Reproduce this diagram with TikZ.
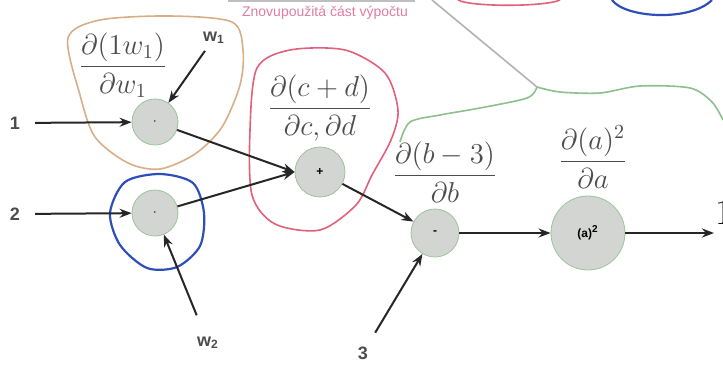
\documentclass[tikz,border=0pt]{standalone}
\usepackage{fontspec}
\setsansfont{Liberation Sans}
\usepackage{amsmath}
\usetikzlibrary{arrows.meta, positioning, calc}
\definecolor{nodegray}{HTML}{D3D5D3}
\definecolor{nodegreen}{HTML}{9CC49A}
\definecolor{outtan}{HTML}{D9AE86}
\definecolor{outblue}{HTML}{2F4FB8}
\definecolor{outred}{HTML}{E2607A}
\definecolor{outgreen}{HTML}{8CC08C}
\definecolor{notepink}{HTML}{E07CA0}

\begin{document}
\begin{tikzpicture}[x=0.5pt, y=-0.5pt,
    gate/.style={circle, draw=nodegreen, fill=nodegray, thin, minimum size=#1, inner sep=0pt, font=\fontsize{6}{7}\sffamily\bfseries},
    gate/.default=23pt,
    arrow/.style={-{Stealth[length=6pt, width=4.5pt]}, line width=1pt, black!85},
    inlabel/.style={font=\fontsize{9}{11}\sffamily\bfseries, text=black!70},
    deriv/.style={font=\fontsize{14}{16}\selectfont, text=black!70},
    blob/.style={line width=0.8pt}
]
\useasboundingbox (0,0) rectangle (723,365);

\draw[blob, outtan] plot[smooth cycle] coordinates {(68,38) (100,20) (170,16) (232,22) (243,50) (240,85) (222,127) (195,154) (160,169) (128,163) (95,137) (80,95)};
\draw[blob, outblue, line width=1.1pt] plot[smooth cycle] coordinates {(110,213) (125,182) (160,174) (193,183) (204,213) (200,246) (177,267) (147,268) (120,245)};
\draw[blob, outred] plot[smooth cycle] coordinates {(257,68) (290,50) (345,50) (385,73) (398,110) (391,140) (372,175) (356,205) (320,230) (275,224) (252,195) (250,130)};
\draw[blob, outgreen] plot[smooth] coordinates {(400,142) (410,122) (440,115) (480,108) (527,98) (537,87)};
\draw[blob, outgreen] plot[smooth] coordinates {(537,87) (560,92) (600,93) (640,86) (690,88) (712,102) (723,120)};
\draw[blob, gray!60] (432,0) -- (537,87);
\draw[blob, gray!50] (228,1) -- (415,1);
\draw[blob, outred] (458,0) .. controls (470,7) and (545,7) .. (560,0);
\draw[blob, outblue, line width=1.1pt] (612,0) .. controls (625,18) and (690,22) .. (712,0);

\node[font=\fontsize{7}{8}\sffamily, text=notepink] (note) at (325,13) {Znovupoužitá část výpočtu};

\node[gate] (m1) at (155,122) {$\cdot$};
\node[gate] (m2) at (155,213) {$\cdot$};
\node[gate=25pt] (add) at (320,172) {+};
\node[gate=24pt] (sub) at (435,233) {-};
\node[gate=37pt] (sq) at (588,233) {(a)\textsuperscript{2}};

\node[inlabel] (x1) at (15,123) {1};
\node[inlabel] (x2) at (15,214) {2};
\node[inlabel] (w1) at (214,38) {w\textsubscript{1}};
\node[inlabel] (w2) at (208,343) {w\textsubscript{2}};
\node[inlabel] (c3) at (363,353) {3};
\node[font=\fontsize{18}{20}\selectfont, anchor=west, inner sep=0pt] (y) at (715,213) {1};
\coordinate (out) at (714,233);

\node[deriv] (d1) at (123,65) {$\dfrac{\partial(1w_1)}{\partial w_1}$};
\node[deriv] (d2) at (320,108) {$\dfrac{\partial(c+d)}{\partial c,\partial d}$};
\node[deriv] (d3) at (445,172) {$\dfrac{\partial(b-3)}{\partial b}$};
\node[deriv] (d4) at (593,157) {$\dfrac{\partial(a)^2}{\partial a}$};

\draw[arrow, shorten <=4pt] (x1) -- (m1);
\draw[arrow, shorten <=4pt] (x2) -- (m2);
\draw[arrow] (w1) -- (m1);
\draw[arrow, shorten <=8pt] (w2) -- (m2);
\draw[arrow, shorten <=4pt] (c3) -- (sub);
\draw[arrow] (m1) -- (add.west);
\draw[arrow] (m2) -- (add.west);
\draw[arrow] (add) -- (sub);
\draw[arrow] (sub) -- (sq);
\draw[arrow] (sq) -- (out);

\end{tikzpicture}
\end{document}
